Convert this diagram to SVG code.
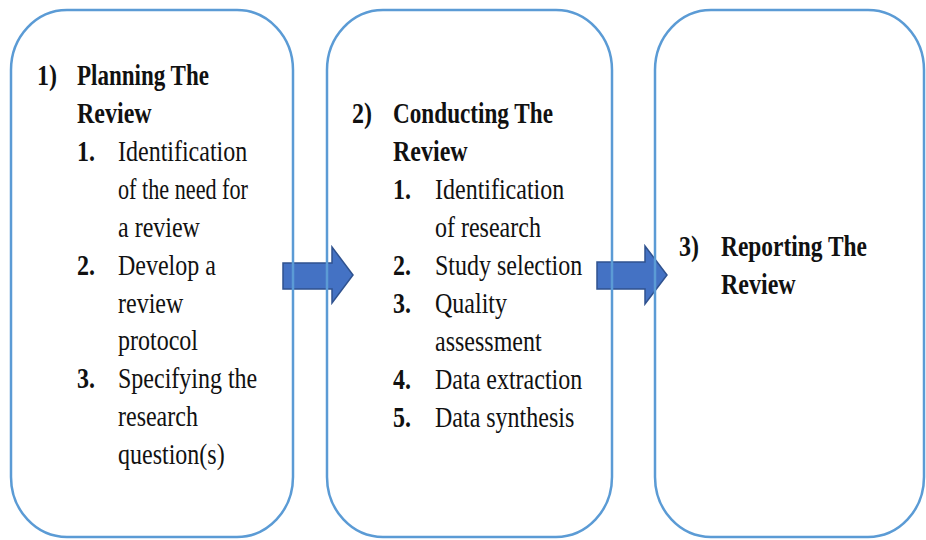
<svg xmlns="http://www.w3.org/2000/svg" width="926" height="540" viewBox="0 0 926 540">
<style>
.box{fill:none;stroke:#5B9BD5;stroke-width:2.5}
.arr{fill:#4472C4;stroke:#2F528F;stroke-width:1.5;stroke-linejoin:miter}
text{font-family:"Liberation Serif","Times New Roman",serif;font-size:24px;fill:#111}
.b{font-weight:bold}
</style>
<rect width="926" height="540" fill="#fff"/>
<g id="connectors">
<polygon class="arr" points="283,263 332,263 332,247 353,275 332,303 332,289 283,289"/>
<polygon class="arr" points="597,262 645,262 645,246 667,275 645,304 645,289 597,289"/>
</g>
<g id="node1">
<rect class="box" x="11" y="10" width="282" height="527" rx="56" ry="60"/>
<text class="b" transform="translate(37,85) scale(1,1.2)">1)</text>
<text class="b" transform="translate(77,85) scale(1,1.2)" textLength="132" lengthAdjust="spacingAndGlyphs">Planning The</text>
<text class="b" transform="translate(77,123) scale(1,1.2)">Review</text>
<text class="b" transform="translate(77,161) scale(1,1.2)">1.</text>
<text transform="translate(118,161) scale(1,1.2)">Identification</text>
<text transform="translate(118,199) scale(1,1.2)" textLength="130" lengthAdjust="spacingAndGlyphs">of the need for</text>
<text transform="translate(118,237) scale(1,1.2)">a review</text>
<text class="b" transform="translate(77,275) scale(1,1.2)">2.</text>
<text transform="translate(118,275) scale(1,1.2)">Develop a</text>
<text transform="translate(118,313) scale(1,1.2)">review</text>
<text transform="translate(118,350) scale(1,1.2)">protocol</text>
<text class="b" transform="translate(77,388) scale(1,1.2)">3.</text>
<text transform="translate(118,388) scale(1,1.2)">Specifying the</text>
<text transform="translate(118,426) scale(1,1.2)">research</text>
<text transform="translate(118,464) scale(1,1.2)">question(s)</text>
</g>
<g id="node2">
<rect class="box" x="327" y="10" width="285" height="527" rx="56" ry="60"/>
<text class="b" transform="translate(352,123) scale(1,1.2)">2)</text>
<text class="b" transform="translate(393,123) scale(1,1.2)" textLength="160" lengthAdjust="spacingAndGlyphs">Conducting The</text>
<text class="b" transform="translate(393,161) scale(1,1.2)">Review</text>
<text class="b" transform="translate(393,199) scale(1,1.2)">1.</text>
<text transform="translate(435,199) scale(1,1.2)">Identification</text>
<text transform="translate(435,237) scale(1,1.2)">of research</text>
<text class="b" transform="translate(393,275) scale(1,1.2)">2.</text>
<text transform="translate(435,275) scale(1,1.2)">Study selection</text>
<text class="b" transform="translate(393,313) scale(1,1.2)">3.</text>
<text transform="translate(435,313) scale(1,1.2)">Quality</text>
<text transform="translate(435,351) scale(1,1.2)">assessment</text>
<text class="b" transform="translate(393,389) scale(1,1.2)">4.</text>
<text transform="translate(435,389) scale(1,1.2)">Data extraction</text>
<text class="b" transform="translate(393,427) scale(1,1.2)">5.</text>
<text transform="translate(435,427) scale(1,1.2)">Data synthesis</text>
</g>
<g id="node3">
<rect class="box" x="655" y="10" width="269" height="527" rx="56" ry="60"/>
<text class="b" transform="translate(679,256) scale(1,1.2)">3)</text>
<text class="b" transform="translate(721,256) scale(1,1.2)" textLength="146" lengthAdjust="spacingAndGlyphs">Reporting The</text>
<text class="b" transform="translate(721,294) scale(1,1.2)">Review</text>
</g>
</svg>
